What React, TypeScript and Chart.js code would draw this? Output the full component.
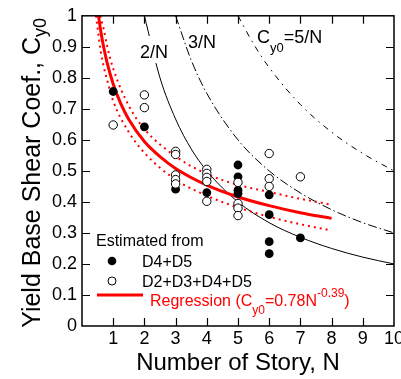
import React, { useEffect, useRef } from "react";
import { Chart, registerables } from "chart.js";

Chart.register(...registerables);

// ---- data ----
const filledN = [1, 2, 3, 4, 5, 5, 5, 5, 6, 6, 6, 6, 7];
const filledC = [0.756, 0.642, 0.441, 0.43, 0.519, 0.481, 0.438, 0.427, 0.423, 0.359, 0.272, 0.233, 0.284];

const openN = [1, 2, 2, 3, 3, 3, 3, 3, 4, 4, 4, 4, 4, 5, 5, 5, 5, 6, 6, 6, 7];
const openC = [0.648, 0.745, 0.704, 0.563, 0.553, 0.487, 0.472, 0.458, 0.505, 0.492, 0.479, 0.466, 0.402, 0.463, 0.395, 0.38, 0.356, 0.556, 0.475, 0.45, 0.481];

const regN = [0.53, 0.6, 0.7, 0.8, 1, 1.25, 1.5, 2, 2.5, 3, 4, 5, 6, 7, 8];
const regC = [1.0, 0.952, 0.896, 0.851, 0.78, 0.715, 0.666, 0.595, 0.546, 0.508, 0.454, 0.416, 0.388, 0.365, 0.347];

const upN = [0.58, 0.7, 0.8, 1, 1.5, 2, 3, 4, 5, 6, 7, 8];
const upC = [1.0, 0.955, 0.905, 0.83, 0.71, 0.635, 0.547, 0.49, 0.455, 0.432, 0.41, 0.391];

const loN = [0.45, 0.6, 0.7, 0.8, 1, 1.5, 2, 3, 4, 5, 6, 7, 8];
const loC = [1.0, 0.885, 0.835, 0.795, 0.725, 0.625, 0.558, 0.472, 0.42, 0.382, 0.352, 0.328, 0.308];

const twoN = [2, 2.5, 3, 3.5, 4, 5, 6, 7, 8, 9, 10];
const twoC = [1.0, 0.8, 0.667, 0.571, 0.5, 0.4, 0.333, 0.286, 0.25, 0.222, 0.2];

const threeN = [3, 3.5, 4, 5, 6, 7, 8, 9, 10];
const threeC = [1.0, 0.857, 0.75, 0.6, 0.5, 0.429, 0.375, 0.333, 0.3];

const fiveN = [5, 5.5, 6, 7, 8, 9, 10];
const fiveC = [1.0, 0.909, 0.833, 0.714, 0.625, 0.556, 0.5];

const xTicks = [1, 2, 3, 4, 5, 6, 7, 8, 9];
const yTicks = [0.1, 0.2, 0.3, 0.4, 0.5, 0.6, 0.7, 0.8, 0.9];

const FONT = "'Liberation Sans', Arial, sans-serif";

const pts = (xs: number[], ys: number[]) => xs.map((x, i) => ({ x, y: ys[i] }));

const decor = {
  id: "decor",
  afterDatasetsDraw(chart: any) {
    const ctx = chart.ctx as CanvasRenderingContext2D;
    const { left, right, top, bottom } = chart.chartArea;
    const xs = chart.scales.x;
    const ys = chart.scales.y;
    ctx.save();

    // curve labels (with white masks)
    ctx.fillStyle = "#fff";
    ctx.fillRect(139, 36, 31, 27);
    ctx.fillStyle = "#000";
    ctx.font = `18px ${FONT}`;
    ctx.textBaseline = "alphabetic";
    ctx.textAlign = "left";
    ctx.fillText("2/N", 140, 58);
    ctx.fillText("3/N", 188, 48);
    ctx.fillText("C", 257, 43);
    let cw = ctx.measureText("C").width;
    ctx.font = `13px ${FONT}`;
    ctx.fillText("y0", 257 + cw, 52);
    const sw = ctx.measureText("y0").width;
    ctx.font = `18px ${FONT}`;
    ctx.fillText("=5/N", 257 + cw + sw, 43);

    // frame
    ctx.strokeStyle = "#000";
    ctx.lineWidth = 1.5;
    ctx.strokeRect(left, top, right - left, bottom - top);
    // inward ticks
    ctx.lineWidth = 1.2;
    ctx.beginPath();
    const tl = 8;
    xTicks.forEach((v) => {
      const px = Math.round(xs.getPixelForValue(v)) + 0.5;
      ctx.moveTo(px, bottom);
      ctx.lineTo(px, bottom - tl);
      ctx.moveTo(px, top);
      ctx.lineTo(px, top + tl);
    });
    yTicks.forEach((v) => {
      const py = Math.round(ys.getPixelForValue(v)) + 0.5;
      ctx.moveTo(left, py);
      ctx.lineTo(left + tl, py);
      ctx.moveTo(right, py);
      ctx.lineTo(right - tl, py);
    });
    ctx.stroke();

    // legend
    ctx.font = `16px ${FONT}`;
    ctx.fillStyle = "#000";
    ctx.fillText("Estimated from", 96, 246);
    ctx.beginPath();
    ctx.arc(112, 261, 4.3, 0, Math.PI * 2);
    ctx.fill();
    ctx.fillText("D4+D5", 142, 267);
    ctx.beginPath();
    ctx.arc(112, 281, 4.0, 0, Math.PI * 2);
    ctx.fillStyle = "#fff";
    ctx.fill();
    ctx.lineWidth = 1;
    ctx.stroke();
    ctx.fillStyle = "#000";
    ctx.fillText("D2+D3+D4+D5", 142, 287);
    ctx.strokeStyle = "#ff0000";
    ctx.lineWidth = 3;
    ctx.beginPath();
    ctx.moveTo(97, 295);
    ctx.lineTo(143, 295);
    ctx.stroke();
    ctx.fillStyle = "#ff0000";
    let x = 150;
    const seg = (t: string, size: number, base: number) => {
      ctx.font = `${size}px ${FONT}`;
      ctx.fillText(t, x, base);
      x += ctx.measureText(t).width;
    };
    seg("Regression (C", 16, 306);
    seg("y0", 12, 314);
    seg("=0.78N", 16, 306);
    seg("-0.39", 12, 297);
    seg(")", 16, 306);

    // axis titles
    ctx.fillStyle = "#000";
    ctx.font = `24px ${FONT}`;
    ctx.textAlign = "center";
    ctx.fillText("Number of Story, N", (left + right) / 2, 370);

    ctx.textAlign = "left";
    ctx.font = `25px ${FONT}`;
    const main = "Yield Base Shear Coef., C";
    const mw = ctx.measureText(main).width;
    ctx.font = `18px ${FONT}`;
    const subw = ctx.measureText("y0").width;
    const total = mw + subw;
    const cy = (top + bottom) / 2 + 2;
    ctx.translate(40, cy);
    ctx.rotate(-Math.PI / 2);
    ctx.font = `25px ${FONT}`;
    ctx.fillText(main, -total / 2, 0);
    ctx.font = `18px ${FONT}`;
    ctx.fillText("y0", -total / 2 + mw, 6);
    ctx.restore();
  },
};

export default function App() {
  const ref = useRef<HTMLCanvasElement | null>(null);
  useEffect(() => {
    if (!ref.current) return;
    const chart = new Chart(ref.current, {
      type: "scatter",
      data: {
        datasets: [
          {
            label: "D2+D3+D4+D5",
            data: pts(openN, openC),
            pointRadius: 4.2,
            pointBackgroundColor: "#fff",
            pointBorderColor: "#000",
            pointBorderWidth: 1,
            order: 0,
          },
          {
            label: "D4+D5",
            data: pts(filledN, filledC),
            pointRadius: 4.4,
            pointBackgroundColor: "#000",
            pointBorderColor: "#000",
            pointBorderWidth: 0,
            order: 1,
          },
          {
            label: "Regression",
            data: pts(regN, regC),
            showLine: true,
            pointRadius: 0,
            borderColor: "#ff0000",
            borderWidth: 3,
            cubicInterpolationMode: "monotone",
            order: 2,
          },
          {
            label: "upper",
            data: pts(upN, upC),
            showLine: true,
            pointRadius: 0,
            borderColor: "#ff0000",
            borderWidth: 2,
            borderDash: [2, 4],
            cubicInterpolationMode: "monotone",
            order: 3,
          },
          {
            label: "lower",
            data: pts(loN, loC),
            showLine: true,
            pointRadius: 0,
            borderColor: "#ff0000",
            borderWidth: 2,
            borderDash: [2, 4],
            cubicInterpolationMode: "monotone",
            order: 4,
          },
          {
            label: "2/N",
            data: pts(twoN, twoC),
            showLine: true,
            pointRadius: 0,
            borderColor: "#000",
            borderWidth: 1,
            cubicInterpolationMode: "monotone",
            order: 5,
          },
          {
            label: "3/N",
            data: pts(threeN, threeC),
            showLine: true,
            pointRadius: 0,
            borderColor: "#000",
            borderWidth: 1,
            borderDash: [9, 3, 1.5, 3],
            cubicInterpolationMode: "monotone",
            order: 6,
          },
          {
            label: "5/N",
            data: pts(fiveN, fiveC),
            showLine: true,
            pointRadius: 0,
            borderColor: "#000",
            borderWidth: 1,
            borderDash: [6, 5, 1.5, 5],
            cubicInterpolationMode: "monotone",
            order: 7,
          },
        ],
      },
      options: {
        responsive: false,
        animation: false,
        events: [],
        layout: { padding: { top: 14, right: 26, left: 0, bottom: 0 } },
        plugins: { legend: { display: false }, tooltip: { enabled: false } },
        scales: {
          x: {
            type: "linear",
            min: 0,
            max: 10,
            grid: { display: false, drawTicks: false },
            border: { display: false },
            ticks: {
              stepSize: 1,
              padding: 2,
              color: "#000",
              font: { family: FONT, size: 18 },
              maxRotation: 0,
              callback: (v: any) => (v === 0 ? "" : String(v)),
            },
            afterFit: (s: any) => {
              s.height = 53;
            },
          },
          y: {
            min: 0,
            max: 1,
            grid: { display: false, drawTicks: false },
            border: { display: false },
            ticks: {
              stepSize: 0.1,
              padding: 5,
              color: "#000",
              font: { family: FONT, size: 18 },
              callback: (v: any) => String(Number(Number(v).toFixed(1))),
            },
            afterFit: (s: any) => {
              s.width = 82;
            },
          },
        },
      },
      plugins: [decor],
    });
    return () => chart.destroy();
  }, []);
  return (
    <div style={{ position: "fixed", left: 0, top: 0, width: 420, height: 379, background: "#fff" }}>
      <canvas ref={ref} width={420} height={379} style={{ display: "block" }} />
    </div>
  );
}
